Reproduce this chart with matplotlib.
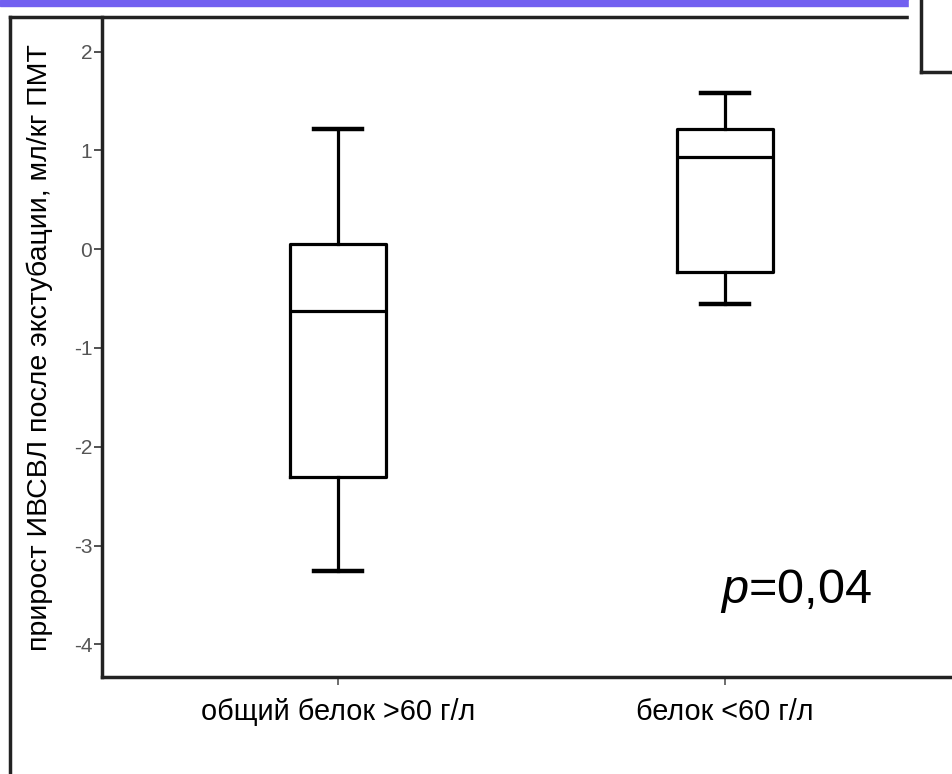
import matplotlib
matplotlib.use('Agg')
import matplotlib.pyplot as plt
from matplotlib.patches import Rectangle
from matplotlib.lines import Line2D

plt.rcParams['font.family'] = ['Liberation Sans', 'DejaVu Sans']
plt.rcParams['mathtext.fontset'] = 'custom'
plt.rcParams['mathtext.it'] = 'Liberation Sans:italic'
plt.rcParams['mathtext.rm'] = 'Liberation Sans'

# данные боксплотов
groups = ['общий белок >60 г/л', 'белок <60 г/л']
whislo = [-3.26, -0.55]
q1 = [-2.31, -0.23]
med = [-0.63, 0.93]
q3 = [0.05, 1.22]
whishi = [1.22, 1.58]
yticks = [-4, -3, -2, -1, 0, 1, 2]

W, H = 952, 774


def fx(x):
    return x / W


def fy(y):
    return 1 - y / H


fig = plt.figure(figsize=(W / 100, H / 100), dpi=100)

# оси: левый край 102px, низ 677px, верх 17px, правый край за пределами картинки
ax = fig.add_axes([fx(102), fy(677), fx(960) - fx(102), fy(17) - fy(677)])

stats = []
for i in range(len(groups)):
    stats.append({'whislo': whislo[i], 'q1': q1[i], 'med': med[i],
                  'q3': q3[i], 'whishi': whishi[i], 'fliers': [],
                  'label': groups[i]})

line = dict(color='black', linewidth=2.3)
ax.bxp(stats, positions=[1, 2], widths=0.25, showfliers=False,
       boxprops=line, whiskerprops=line, medianprops=line,
       capprops=dict(color='black', linewidth=3.2))

ax.set_xlim(0.39, 2.607)
ax.set_ylim(-4.33, 2.35)
ax.set_yticks(yticks)
ax.set_yticklabels([str(t) for t in yticks], fontsize=15, color='#555555')
ax.tick_params(axis='y', length=6, width=1.2, color='#333333', pad=1)
ax.tick_params(axis='x', length=6, width=1.2, color='#555555', pad=9,
               labelsize=20.8)

for s in ['top', 'right']:
    ax.spines[s].set_visible(False)
for s in ['left', 'bottom']:
    ax.spines[s].set_linewidth(2.5)
    ax.spines[s].set_color('#222222')

fig.text(fx(40), fy(348), 'прирост ИВСВЛ после экстубации, мл/кг ПМТ',
         rotation=90, ha='center', va='center', fontsize=20.5)

fig.text(fx(872), fy(603), '$p$=0,04', ha='right', va='baseline', fontsize=35)

# синяя полоса слайда сверху
fig.patches.append(Rectangle((0, fy(6)), fx(909), 1 - fy(6),
                             transform=fig.transFigure, color='#7260F0',
                             zorder=5))
# внешняя рамка
fig.lines.append(Line2D([fx(10), fx(10)], [fy(17), -0.01],
                        transform=fig.transFigure, color='#222222', lw=2.5))
fig.lines.append(Line2D([fx(10), fx(909)], [fy(17), fy(17)],
                        transform=fig.transFigure, color='#222222', lw=2.5))
# белое поле в правом верхнем углу
fig.patches.append(Rectangle((fx(909), fy(72)), 1 - fx(909), 1 - fy(72),
                             transform=fig.transFigure, color='white',
                             zorder=6))
fig.lines.append(Line2D([fx(921), fx(921)], [1.01, fy(72)],
                        transform=fig.transFigure, color='#222222', lw=2.5,
                        zorder=7))
fig.lines.append(Line2D([fx(921), 1.01], [fy(72), fy(72)],
                        transform=fig.transFigure, color='#222222', lw=2.5,
                        zorder=7))

fig.savefig('out.png', dpi=100)
